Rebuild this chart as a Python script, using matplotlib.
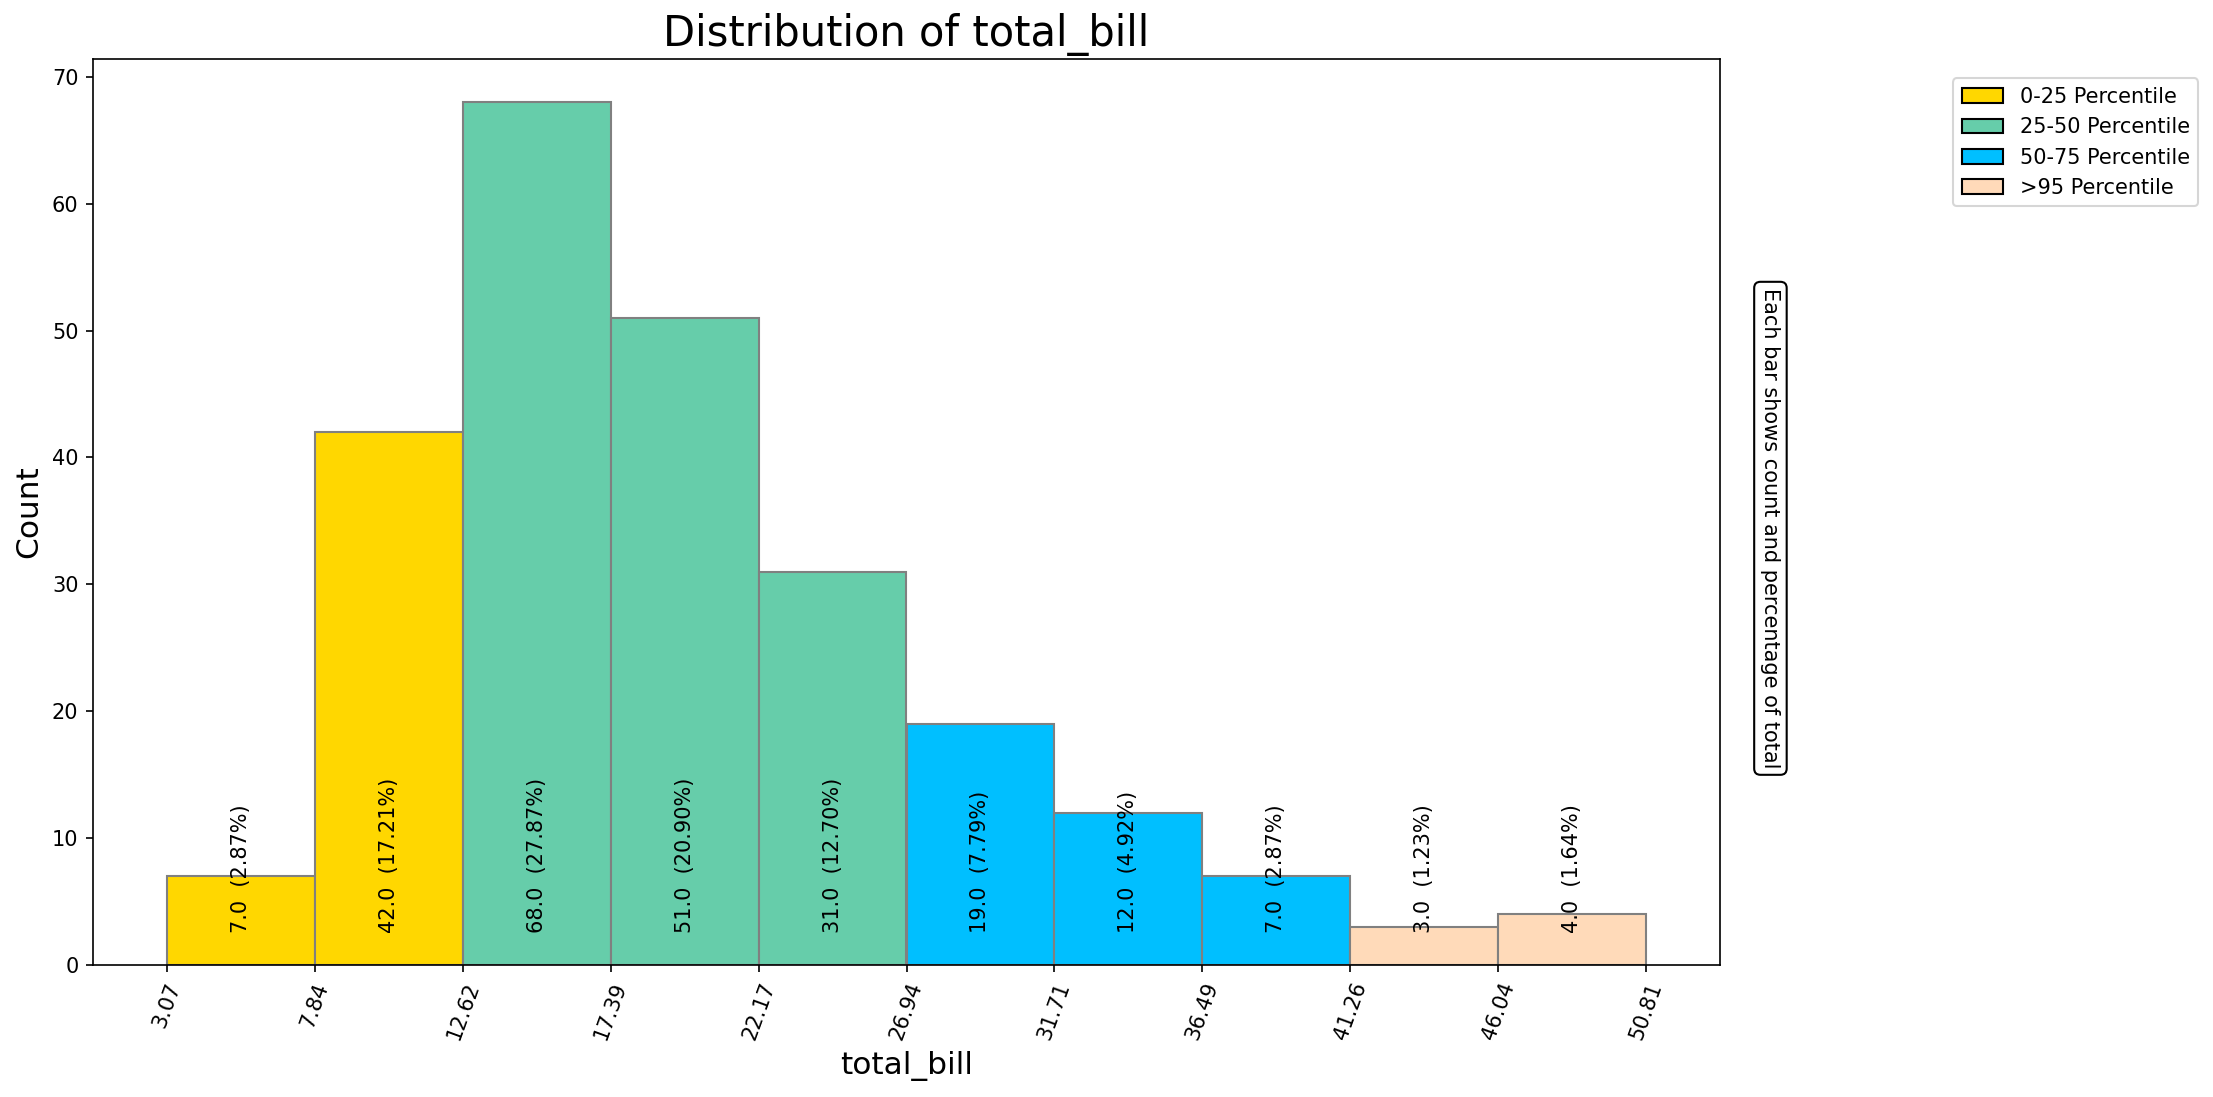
import numpy as np
import matplotlib
matplotlib.use("Agg")
import matplotlib.pyplot as plt
from matplotlib.patches import Patch

# histogram of total_bill (tips), 10 bins
bin_edges = [3.07, 7.844, 12.618, 17.392, 22.166, 26.94, 31.714, 36.488, 41.262, 46.036, 50.81]
counts = [7, 42, 68, 51, 31, 19, 12, 7, 3, 4]
bar_groups = ["0-25", "0-25", "25-50", "25-50", "25-50",
              "50-75", "50-75", "50-75", ">95", ">95"]
group_colors = {"0-25": "gold", "25-50": "mediumaquamarine",
                "50-75": "deepskyblue", ">95": "peachpuff"}
legend_labels = ["0-25 Percentile", "25-50 Percentile", "50-75 Percentile", ">95 Percentile"]


def main():
    edges = np.array(bin_edges)
    vals = np.array(counts, dtype=float)
    total = vals.sum()
    widths = np.diff(edges)

    fig = plt.figure(figsize=(2213 / 150, 1097 / 150), dpi=150)
    # axes box placed to match the reference layout (pixels)
    ax = fig.add_axes([93 / 2213, 1 - 965 / 1097, 1627 / 2213, 906 / 1097])

    colors = [group_colors[g] for g in bar_groups]
    ax.bar(edges[:-1], vals, width=widths, align="edge", color=colors,
           edgecolor="grey", linewidth=1)

    for left, w, v in zip(edges[:-1], widths, vals):
        ax.text(left + w / 2, 2.5, f"{v:.1f}  ({v / total * 100:.2f}%)",
                rotation=90, ha="center", va="bottom", fontsize=10)

    ax.set_xticks(edges)
    ax.set_xticklabels([f"{e:.2f}" for e in edges], rotation=70, fontsize=10)
    ax.set_ylim(0, 71.4)
    ax.set_title("Distribution of total_bill", fontsize=20)
    ax.set_xlabel("total_bill", fontsize=15)
    ax.set_ylabel("Count", fontsize=15)

    handles = [Patch(facecolor=group_colors[g], edgecolor="black", label=l)
               for g, l in zip(["0-25", "25-50", "50-75", ">95"], legend_labels)]
    ax.legend(handles=handles, loc="upper left", bbox_to_anchor=(1.137, 0.99),
              fontsize=10)

    ax.text(1.031, 0.482, "Each bar shows count and percentage of total",
            transform=ax.transAxes, rotation=270, ha="center", va="center",
            fontsize=10,
            bbox=dict(boxstyle="round,pad=0.3", facecolor="white", edgecolor="black"))

    fig.savefig("out.png", dpi=150)
    plt.close(fig)


if __name__ == "__main__":
    main()
